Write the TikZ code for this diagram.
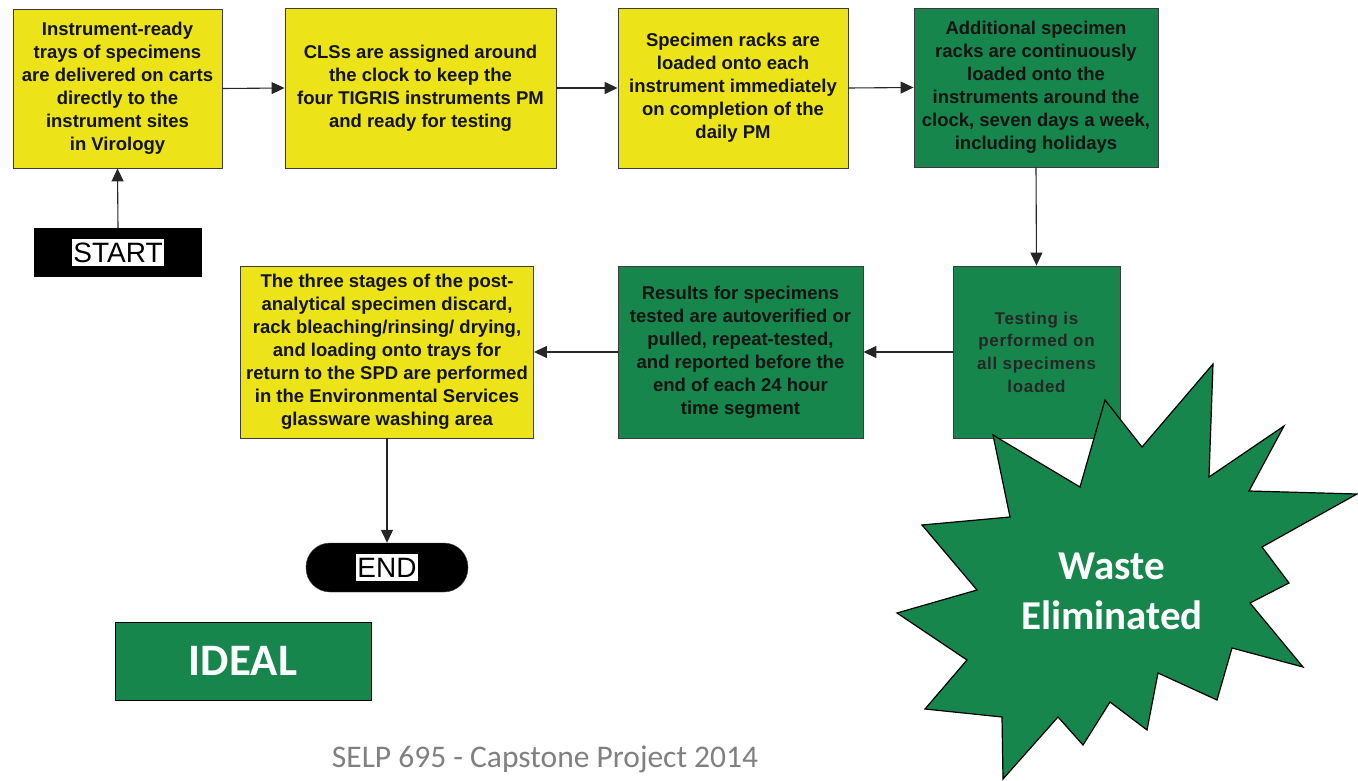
\documentclass[tikz,border=0pt]{standalone}
\usepackage{fontspec}
\setmainfont{Liberation Sans}
\newfontfamily\calib{Carlito}
\newfontfamily\spacedsans[LetterSpace=4]{Liberation Sans}
\usetikzlibrary{arrows.meta}

\definecolor{boxyellow}{RGB}{236,228,24}
\definecolor{boxgreen}{RGB}{22,134,76}
\definecolor{edgegray}{RGB}{60,60,60}
\definecolor{inkdark}{RGB}{20,20,20}
\definecolor{footgray}{RGB}{128,128,128}

\tikzset{
  procbox/.style={draw=edgegray, line width=0.9pt, inner sep=0pt, align=center,
    text=inkdark, font=\bfseries\fontsize{18.5}{23}\selectfont},
  yellowbox/.style={procbox, fill=boxyellow},
  greenbox/.style={procbox, fill=boxgreen},
  flow/.style={draw=black!85, line width=1.1pt, -{Triangle[length=13pt,width=12pt]}},
  termlabel/.style={fill=white, inner xsep=1.5pt, inner ysep=3.5pt, text=black,
    font=\fontsize{28}{30}\selectfont},
}

\begin{document}
\begin{tikzpicture}[x=1pt,y=-1pt]
\useasboundingbox (0,0) rectangle (1358,781);
\fill[white] (0,0) rectangle (1358,781);

% top row
\node[yellowbox, minimum width=209pt, minimum height=159pt] (b1) at (117.5,88.5)
  {Instrument-ready\\trays of specimens\\are delivered on carts\\directly to the\\instrument sites\\in Virology};
\node[yellowbox, minimum width=271pt, minimum height=160pt] (b2) at (420.5,88)
  {CLSs are assigned around\\the clock to keep the\\four TIGRIS instruments PM\\and ready for testing};
\node[yellowbox, minimum width=230pt, minimum height=160pt] (b3) at (733,88)
  {Specimen racks are\\loaded onto each\\instrument immediately\\on completion of the\\daily PM};
\node[greenbox, minimum width=244pt, minimum height=159pt] (b4) at (1036,87.5)
  {Additional specimen\\racks are continuously\\loaded onto the\\instruments around the\\clock, seven days a week,\\including holidays};

% second row
\node[greenbox, minimum width=167pt, minimum height=172pt, text=black!85,
  font=\spacedsans\bfseries\fontsize{17}{22.7}\selectfont] (test) at (1036.5,352)
  {Testing is\\performed on\\all specimens\\loaded};
\node[greenbox, minimum width=245pt, minimum height=172pt] (res) at (740.5,352)
  {Results for specimens\\tested are autoverified or\\pulled, repeat-tested,\\and reported before the\\end of each 24 hour\\time segment};
\node[yellowbox, minimum width=293pt, minimum height=172pt] (stages) at (387,352)
  {The three stages of the post-\\analytical specimen discard,\\rack bleaching/rinsing/ drying,\\and loading onto trays for\\return to the SPD are performed\\in the Environmental Services\\glassware washing area};

% terminals
\node[fill=black, minimum width=168pt, minimum height=49pt, inner sep=0pt] (start) at (118,252.5) {};
\node[termlabel] (startlbl) at (start.center) {START};
\node[fill=black, draw=black!70, rounded corners=24pt, minimum width=162pt,
  minimum height=49pt, inner sep=0pt] (end) at (387,567.5) {};
\node[termlabel] (endlbl) at (end.center) {END};

% connectors
\draw[flow] (start.north) -- (b1.south);
\draw[flow] (b1.east) -- (b2.west);
\draw[flow] (b2.east) -- (b3.west);
\draw[flow] (b3.east) -- (b4.west);
\draw[flow] (b4.south) -- (test.north);
\draw[flow] (test.west) -- (res.east);
\draw[flow] (res.west) -- (stages.east);
\draw[flow] (stages.south) -- (end.north);

% starburst
\filldraw[fill=boxgreen, draw=black, line width=1.2pt, line join=miter]
  (993,435) -- (1080,487) -- (1105,400) -- (1142,447) -- (1213,364) --
  (1209,477) -- (1284,426) -- (1249,491) -- (1357,494) -- (1262,547) --
  (1289,583) -- (1250,603) -- (1303,667) -- (1232,648) -- (1217,700) --
  (1158,673) -- (1147,730) -- (1110,702) -- (1083,745) -- (1058,717) --
  (1003,779) -- (1002,717) -- (925,709) -- (967,660) -- (897,613) --
  (977,590) -- (922,525) -- (1010,517) -- cycle;
\node[align=center, text=white, font=\calib\bfseries\fontsize{41}{50}\selectfont]
  (waste) at (1112,591) {Waste\\Eliminated};

% legend tag
\node[fill=boxgreen, draw=black, line width=1pt, minimum width=256pt,
  minimum height=78pt, inner sep=0pt, text=white,
  font=\calib\bfseries\fontsize{45}{48}\selectfont] (ideal) at (243,661) {IDEAL};

% footer
\node[text=footgray, font=\calib\fontsize{31.5}{34}\selectfont, anchor=base]
  (footer) at (545,767) {SELP 695 - Capstone Project 2014};
\end{tikzpicture}
\end{document}
